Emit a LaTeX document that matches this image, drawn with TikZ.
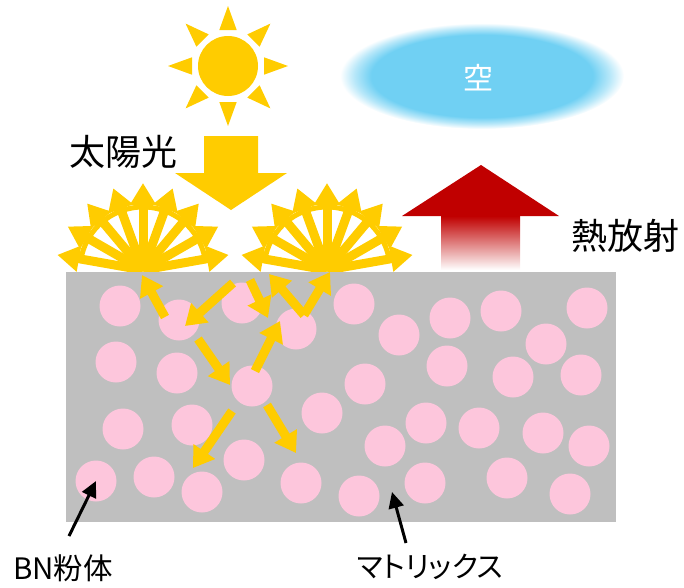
\documentclass[tikz,border=0pt]{standalone}
\usepackage{fontspec}
\setmainfont{Noto Sans CJK JP}
\newfontfamily\kanafont[RawFeature=+palt]{Noto Sans CJK JP}
\usetikzlibrary{arrows.meta,calc}

\definecolor{sunyellow}{RGB}{255,204,0}
\definecolor{matrixgray}{RGB}{191,191,191}
\definecolor{powderpink}{RGB}{253,198,220}
\definecolor{heatred}{RGB}{192,0,0}
\definecolor{skyblue}{RGB}{112,208,243}

% soft-edged sky patch: flat core, fading to white at the rim
\pgfdeclareradialshading{skyglow}{\pgfpoint{0bp}{0bp}}{%
  color(0bp)=(skyblue); color(19.5bp)=(skyblue); color(22.5bp)=(skyblue!50!white);
  color(25bp)=(white); color(50bp)=(white)}

\begin{document}
\begin{tikzpicture}[x=1pt,y=-1pt,
  biglabel/.style={font=\fontsize{36}{40}\selectfont, inner sep=0pt},
  smalllabel/.style={font=\fontsize{29.5}{33}\selectfont, inner sep=0pt},
  particle/.style={circle, fill=powderpink, minimum size=41pt, inner sep=0pt},
  fanray/.style={draw=sunyellow, line width=9pt, -{Triangle[length=22pt,width=25pt]}},
  lightpath/.style={draw=sunyellow, line width=9pt, -{Triangle[length=20pt,width=25pt]}},
  pointer/.style={draw=black, line width=3pt, -{Triangle[length=16pt,width=15pt]}},
]
\useasboundingbox (0,0) rectangle (684,587);

% sky
\shade[shading=skyglow] (482,76) ellipse [x radius=142, y radius=53];
\node[font=\fontsize{30}{34}\selectfont, text=white, inner sep=0pt] (sky) at (478,78) {空};

% sun
\coordinate (sun) at (228,66);
\fill[sunyellow] (sun) circle [radius=30pt];
\foreach \a in {0,45,...,315}
  \fill[sunyellow, shift={(sun)}, rotate=\a] (60pt,0pt) -- (36pt,8.7pt) -- (36pt,-8.7pt) -- cycle;

% incoming sunlight
\fill[sunyellow] (204,136) -- (258,136) -- (258,173) -- (287,173) -- (231,210)
  -- (175,173) -- (204,173) -- cycle;
\node[biglabel] (sunlight) at (123,152) {太陽光};

% scattered light fans
\coordinate (fanL) at (143,270);
\coordinate (fanR) at (327,270);
\foreach \o in {fanL,fanR} {
  \foreach \a in {10,30,...,170}
    \draw[fanray] (\o) -- ($(\o)+(\a:87pt)$);
  \draw[sunyellow, line width=5pt] ($(\o)+(10:63pt)$) arc[start angle=10, end angle=170, radius=63pt];
}

% thermal radiation
\shade[top color=heatred, bottom color=white] (441,216) rectangle (520,270);
\fill[heatred] (402,216) -- (481,165) -- (559,216) -- cycle;
\node[biglabel] (radiation) at (625,236) {熱放射};

% matrix with BN particles
\fill[matrixgray] (66,272) rectangle (616,522);
\foreach \n/\x/\y in {1/120/306, 2/179/320, 3/242/303, 4/296/329, 5/116/362,
    6/177/373, 7/252/386, 8/354/304, 9/399/335, 10/450/318, 11/501/311,
    12/587/308, 13/546/344, 14/447/366, 15/513/377, 16/581/375, 17/365/384,
    18/123/429, 19/192/425, 20/322/413, 21/96/481, 22/154/477, 23/202/492,
    24/244/460, 25/301/483, 26/426/423, 27/479/428, 28/543/433, 29/589/446,
    30/385/446, 31/425/483, 32/507/478, 33/359/496, 34/570/494}
  \node[particle] (p\n) at (\x,\y) {};

% light scattered between particles
\draw[lightpath] (165,317) coordinate (s1a) -- (142,275) coordinate (s1b);
\draw[lightpath] (233,283) coordinate (s2a) -- (185,326) coordinate (s2b);
\draw[lightpath] (250,280) coordinate (s3a) -- (268,318) coordinate (s3b);
\draw[lightpath] (304,315) coordinate (s4a) -- (269,274) coordinate (s4b);
\draw[lightpath] (s4a) -- (330,272) coordinate (s5b);
\draw[lightpath] (198,339) coordinate (s6a) -- (230,385) coordinate (s6b);
\draw[lightpath] (255,371) coordinate (s7a) -- (280,321) coordinate (s7b);
\draw[lightpath] (232,411) coordinate (s8a) -- (193,468) coordinate (s8b);
\draw[lightpath] (267,405) coordinate (s9a) -- (296,453) coordinate (s9b);

% callouts
\node[smalllabel] (bn) at (63,568) {BN粉体};
\node[font=\kanafont\fontsize{29}{33}\selectfont, inner sep=0pt] (matrix) at (430,567) {マトリックス};
\coordinate (bnfoot) at (69,536);
\coordinate (mxfoot) at (406,543);
\coordinate (mxtip) at (392,492);
\draw[pointer] (bnfoot) -- (p21.center);
\draw[pointer] (mxfoot) -- (mxtip);
\end{tikzpicture}
\end{document}
